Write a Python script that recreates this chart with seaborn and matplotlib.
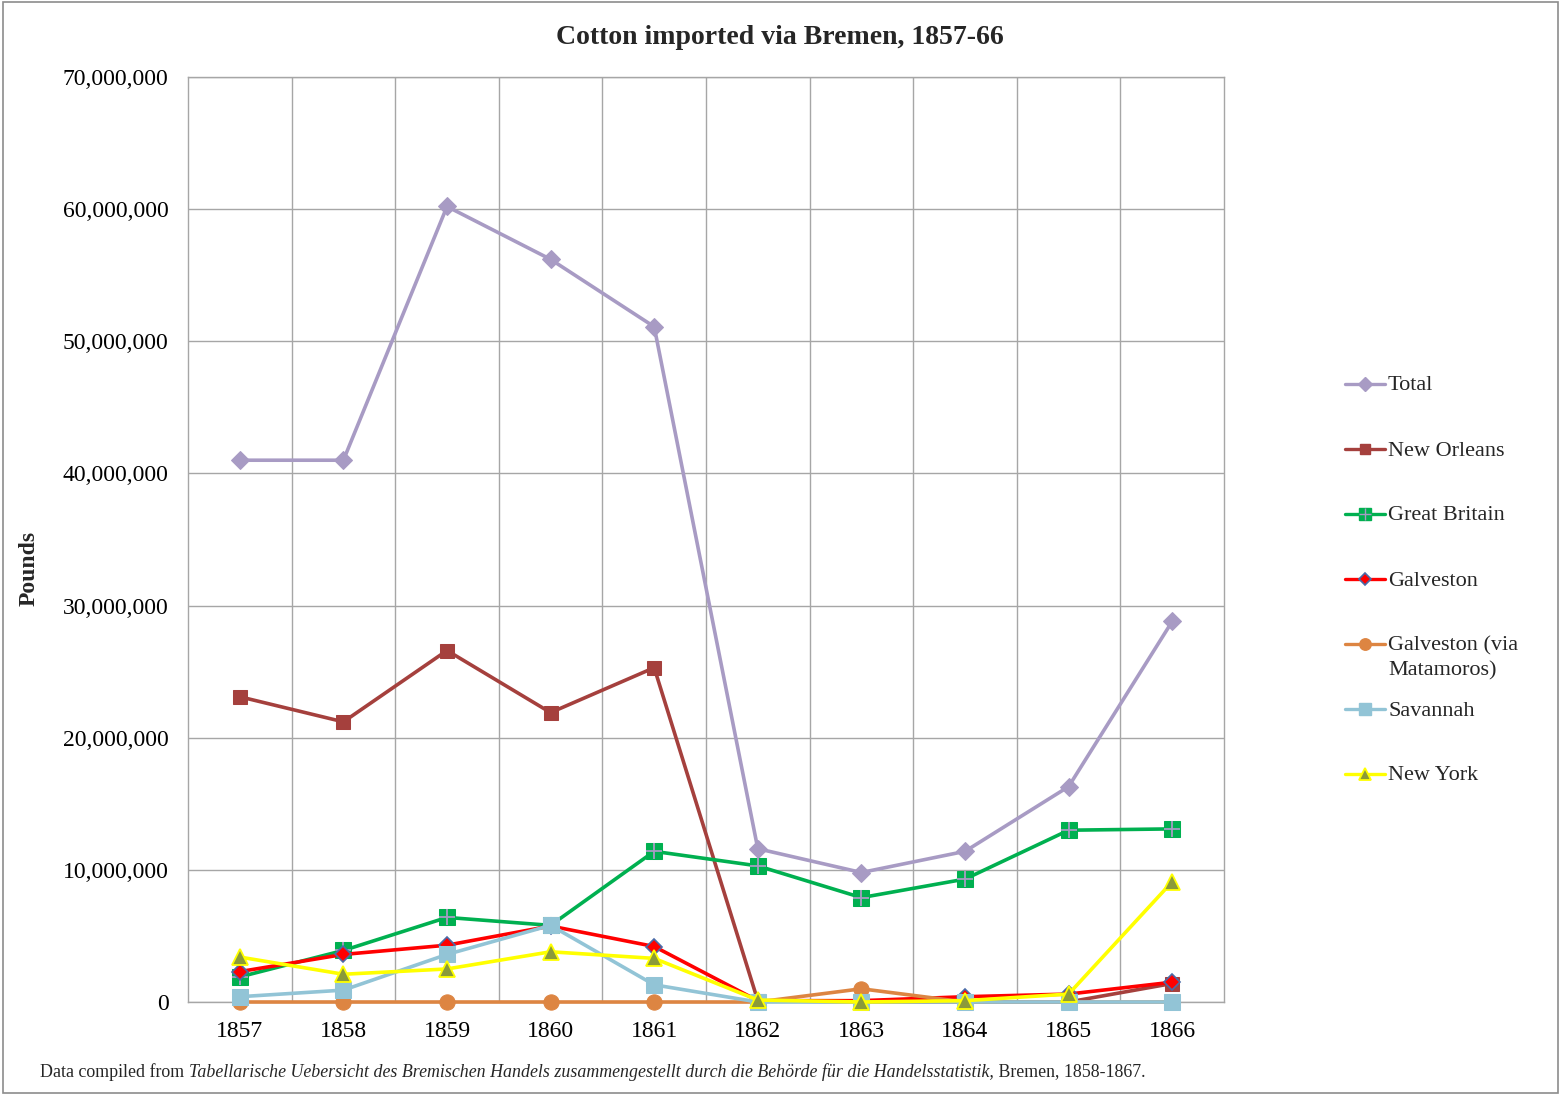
import matplotlib
matplotlib.use('Agg')
import matplotlib.pyplot as plt
import seaborn as sns
import numpy as np
from matplotlib.lines import Line2D
from matplotlib.patches import Rectangle
from matplotlib.ticker import FuncFormatter, MultipleLocator, FixedLocator

# ---------------- data ----------------
years = [1857, 1858, 1859, 1860, 1861, 1862, 1863, 1864, 1865, 1866]
total = [41.0e6, 41.0e6, 60.2e6, 56.2e6, 51.1e6, 11.6e6, 9.8e6, 11.4e6, 16.3e6, 28.8e6]
new_orleans = [23.1e6, 21.2e6, 26.6e6, 21.9e6, 25.3e6, 0.1e6, 0.0, 0.0, 0.0, 1.4e6]
great_britain = [1.9e6, 3.9e6, 6.4e6, 5.8e6, 11.4e6, 10.3e6, 7.9e6, 9.3e6, 13.0e6, 13.1e6]
galveston = [2.3e6, 3.6e6, 4.3e6, 5.75e6, 4.2e6, 0.1e6, 0.1e6, 0.4e6, 0.6e6, 1.5e6]
galveston_matamoros = [0.0, 0.0, 0.0, 0.0, 0.0, 0.0, 1.0e6, 0.0, 0.0, 0.0]
savannah = [0.4e6, 0.9e6, 3.6e6, 5.8e6, 1.3e6, 0.0, 0.0, 0.0, 0.0, 0.0]
new_york = [3.4e6, 2.1e6, 2.5e6, 3.8e6, 3.3e6, 0.15e6, 0.0, 0.1e6, 0.6e6, 9.1e6]

labels = ["Total", "New Orleans", "Great Britain", "Galveston",
          "Galveston (via\nMatamoros)", "Savannah", "New York"]

# ---------------- style ----------------
sns.set_theme(style='white')
plt.rcParams['font.family'] = ['Liberation Serif', 'DejaVu Serif']

W, H = 1567, 1094
fig = plt.figure(figsize=(W / 100, H / 100), dpi=100)
fig.patch.set_facecolor('white')
ax = fig.add_axes([188 / W, 1 - 1002 / H, (1224 - 188) / W, (1002 - 77) / H])

styles = [
    dict(color='#A89BC4', marker='D', markersize=9, markerfacecolor='#A89BC4', markeredgecolor='#A89BC4', linewidth=2.6),
    dict(color='#A5403D', marker='s', markersize=10.5, markerfacecolor='#A5403D', markeredgecolor='#A5403D', linewidth=2.6),
    dict(color='#00B050', marker='s', markersize=11, markerfacecolor='#00B050', markeredgecolor='#00B050', linewidth=2.6),
    dict(color='#FF0000', marker='D', markersize=8.5, markerfacecolor='#FF0000', markeredgecolor='#4A6BA8', markeredgewidth=1.2, linewidth=2.6),
    dict(color='#DD8542', marker='o', markersize=11, markerfacecolor='#DD8542', markeredgecolor='#DD8542', linewidth=2.6),
    dict(color='#92C4D6', marker='s', markersize=11, markerfacecolor='#92C4D6', markeredgecolor='#92C4D6', linewidth=2.6),
    dict(color='#FFFF00', marker='^', markersize=11.5, markerfacecolor='#8A9A3A', markeredgecolor='#FFFF00', markeredgewidth=1.3, linewidth=2.6),
]
series = [total, new_orleans, great_britain, galveston, galveston_matamoros, savannah, new_york]

for vals, st, lab in zip(series, styles, labels):
    sns.lineplot(x=years, y=vals, ax=ax, legend=False, clip_on=False, zorder=3, **st)
    if lab == "Great Britain":
        ax.plot(years, vals, linestyle='none', marker='+', markersize=11,
                markeredgewidth=1.3, color='#A89BC4', clip_on=False, zorder=3)

# axes
ax.set_xlim(1856.5, 1866.5)
ax.set_ylim(0, 70e6)
ax.set_xticks(years)
ax.set_xticklabels([str(y) for y in years])
ax.xaxis.set_minor_locator(FixedLocator([y + 0.5 for y in years[:-1]]))
ax.yaxis.set_major_locator(MultipleLocator(10e6))
ax.yaxis.set_major_formatter(FuncFormatter(lambda v, p: f"{int(v):,}"))
ax.tick_params(axis='both', which='both', length=0, labelsize=17, colors='black')
ax.tick_params(axis='y', pad=14)
ax.tick_params(axis='x', pad=14)
ax.grid(False)
ax.yaxis.grid(True, color='#A6A6A6', linewidth=1)
ax.xaxis.grid(True, which='minor', color='#A6A6A6', linewidth=1)
for s in ax.spines.values():
    s.set_visible(True)
    s.set_color('#A6A6A6')
    s.set_linewidth(1)
ax.set_xlabel('')
ax.set_ylabel('')
ax.set_axisbelow(True)

# legend (drawn entry by entry, evenly spaced like the original)
leg_x0, leg_x1, leg_tx = 1345 / W, 1385 / W, 1388 / W
for i, (st, lab) in enumerate(zip(styles, labels)):
    yc = 1 - (384 + 65 * i) / H
    st2 = dict(st)
    st2['markersize'] = st['markersize'] * 0.75
    st2['linewidth'] = 2.4
    fig.add_artist(Line2D([leg_x0, leg_x1], [yc, yc], transform=fig.transFigure, **{k: v for k, v in st2.items() if k != 'marker'}))
    fig.add_artist(Line2D([(leg_x0 + leg_x1) / 2], [yc], transform=fig.transFigure, linestyle='none', **st2))
    if lab == "Great Britain":
        fig.add_artist(Line2D([(leg_x0 + leg_x1) / 2], [yc], transform=fig.transFigure, linestyle='none',
                              marker='+', markersize=8, markeredgewidth=1.0, color='#A89BC4'))
    lines = lab.split('\n')
    for j, ln in enumerate(lines):
        fig.text(leg_tx, yc - (2 + j * 25) / H, ln, ha='left', va='center', fontsize=16)

# titles
fig.text(780 / W, 1 - 38 / H, "Cotton imported via Bremen, 1857-66", ha='center', va='center',
         fontsize=20, fontweight='bold')
fig.text(29 / W, 1 - 568 / H, "Pounds", rotation=90, ha='center', va='center',
         fontsize=17, fontweight='bold')

# footnote with mixed styles
fig.canvas.draw()
renderer = fig.canvas.get_renderer()
parts = [("Data compiled from ", 'normal'),
         ("Tabellarische Uebersicht des Bremischen Handels zusammengestellt durch die Behörde für die Handelsstatistik,", 'italic'),
         (" Bremen, 1858-1867.", 'normal')]
x = 40 / W
for txt, stl in parts:
    t = fig.text(x, 1 - 1072 / H, txt, ha='left', va='center', fontsize=12.9, fontstyle=stl)
    bb = t.get_window_extent(renderer=renderer)
    x += bb.width / W

# outer border
fig.patches.append(Rectangle((3 / W, 1 / H), (1558 - 3) / W, (1092 - 1) / H,
                             transform=fig.transFigure, fill=False,
                             edgecolor='#8C8C8C', linewidth=1.2))

fig.savefig('out.png', dpi=100, facecolor='white')
